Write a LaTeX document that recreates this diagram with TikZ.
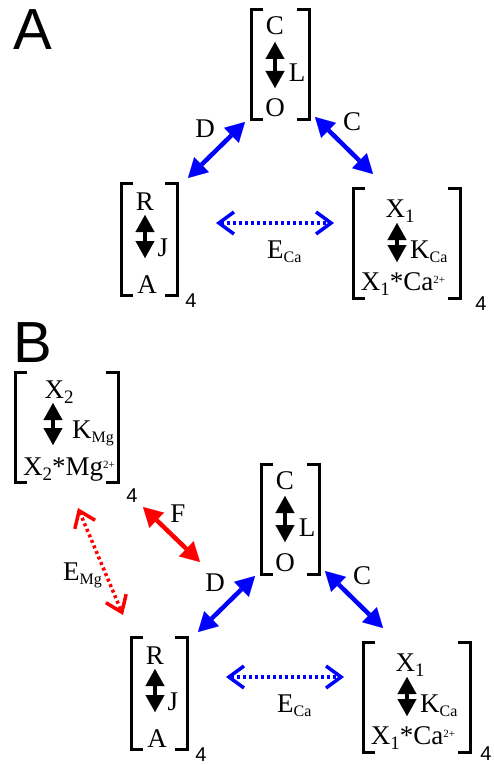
\documentclass[tikz,border=0pt]{standalone}
\usepackage{fontspec}
\setmainfont{Liberation Serif}
\newfontfamily\arialf{Liberation Sans}
\usetikzlibrary{arrows.meta}
\definecolor{pblue}{RGB}{0,0,255}
\definecolor{pred}{RGB}{255,0,0}
\newcommand\lowr[1]{\raisebox{-5pt}{\fontsize{19}{19}\selectfont #1}}
\newcommand\ionsub[1]{\raisebox{-4.5pt}{\fontsize{16}{16}\selectfont #1}}
\newcommand\chg[1]{\raisebox{7pt}{\fontsize{11}{11}\selectfont #1}}
\newcommand\bracketsof[1]{%
  \draw[brk] ([xshift=12pt]#1.north west) -- (#1.north west) -- (#1.south west) -- ([xshift=12pt]#1.south west);
  \draw[brk] ([xshift=-12pt]#1.north east) -- (#1.north east) -- (#1.south east) -- ([xshift=-12pt]#1.south east);}
\tikzset{
  boxn/.style={draw=none, inner sep=0pt, outer sep=0pt, rectangle},
  brk/.style={line width=3pt, line cap=butt, line join=miter},
  txt/.style={anchor=base, inner sep=0pt, font=\fontsize{27}{32}\selectfont},
  txtw/.style={anchor=base west, inner sep=0pt, font=\fontsize{27}{32}\selectfont},
  four/.style={anchor=base, inner sep=0pt, font=\arialf\fontsize{20}{24}\selectfont},
  panellabel/.style={anchor=base west, inner sep=0pt, font=\arialf\fontsize{58}{60}\selectfont},
  blk/.style={line width=4.5pt, {Triangle[length=17pt,width=19pt,line width=0.1pt]}-{Triangle[length=17pt,width=19pt,line width=0.1pt]}},
  solidarr/.style={line width=4.5pt, {Triangle[length=19pt,width=21pt,line width=0.1pt]}-{Triangle[length=19pt,width=21pt,line width=0.1pt]}},
  dotarr/.style={line width=3.5pt, dash pattern=on 3pt off 3pt, {Straight Barb[length=15pt,width=22pt]}-{Straight Barb[length=15pt,width=22pt]}},
}
\newcommand\drawpanel[3]{%
  \node[boxn,minimum width=58pt,minimum height=110pt] (#1top) at (280,65) {};
  \node[boxn,minimum width=56pt,minimum height=112pt] (#1rja) at (149,239) {};
  \node[boxn,minimum width=107pt,minimum height=110pt] (#1xca) at (406.5,243) {};
  \bracketsof{#1top}\bracketsof{#1rja}\bracketsof{#1xca}
  % C <-> O
  \node[txt] (#1c) at (275,35) {C};
  \coordinate (#1cl1) at (275,42); \coordinate (#1cl2) at (275,88);
  \draw[blk] (#1cl1) -- (#1cl2);
  \node[txt] (#1l) at (297,82) {L};
  \node[txt] (#1o) at (275,117) {O};
  % R <-> A
  \node[txt] (#1r) at (145,210) {R};
  \coordinate (#1ra1) at (145,215); \coordinate (#1ra2) at (145,258);
  \draw[blk] (#1ra1) -- (#1ra2);
  \node[txt] (#1j) at (163,256) {J};
  \node[txt] (#1a) at (147,293) {A};
  \node[four] (#1fourr) at (191,307) {4};
  % X1 <-> X1*Ca
  \node[txt] (#1x) at (400,217) {X\lowr{1}};
  \coordinate (#1xk1) at (397,223); \coordinate (#1xk2) at (397,262);
  \draw[blk] (#1xk1) -- (#1xk2);
  \node[txtw] (#1k) at (410,258) {K\ionsub{Ca}};
  \node[txt] (#1xc) at (403,290) {X\lowr{1}*Ca\chg{2+}};
  \node[four] (#1fourx) at (#2,#3) {4};
  % transitions
  \coordinate (#1d1) at (245,122); \coordinate (#1d2) at (188,178);
  \draw[solidarr, pblue] (#1d1) -- (#1d2);
  \node[txt] (#1dl) at (205,137) {D};
  \coordinate (#1c1) at (315,117); \coordinate (#1c2) at (373,174);
  \draw[solidarr, pblue] (#1c1) -- (#1c2);
  \node[txt] (#1cl) at (352,130) {C};
  \coordinate (#1e1) at (216,223); \coordinate (#1e2) at (334,223);
  \draw[dotarr, pblue] (#1e1) -- (#1e2);
  \node[txtw] (#1el) at (267,258) {E\ionsub{Ca}};
}
\begin{document}
\begin{tikzpicture}[x=1pt,y=-1pt]
\useasboundingbox (0,0) rectangle (493,765);
\node[panellabel] (labA) at (13,50) {A};
\drawpanel{a}{481}{310}
\node[panellabel] (labB) at (13,362) {B};
\begin{scope}[shift={(10,454)}]
\drawpanel{b}{476}{306}
\end{scope}
% X2 box of panel B
\node[boxn,minimum width=103pt,minimum height=110pt] (xmg) at (66.5,427) {};
\bracketsof{xmg}
\node[txt] (x2) at (59,398) {X\lowr{2}};
\coordinate (xm1) at (53,403); \coordinate (xm2) at (53,445);
\draw[blk] (xm1) -- (xm2);
\node[txtw] (kmg) at (72,438) {K\ionsub{Mg}};
\node[txt] (x2mg) at (69,475) {X\lowr{2}*Mg\chg{2+}};
\node[four] (fourmg) at (132,502) {4};
\coordinate (f1) at (143,507); \coordinate (f2) at (200,562);
\draw[solidarr, pred] (f1) -- (f2);
\node[txt] (fl) at (178,522) {F};
\coordinate (em1) at (78,508); \coordinate (em2) at (123,615);
\draw[dotarr, pred] (em1) -- (em2);
\node[txtw] (eml) at (63,580) {E\ionsub{Mg}};
\end{tikzpicture}
\end{document}
